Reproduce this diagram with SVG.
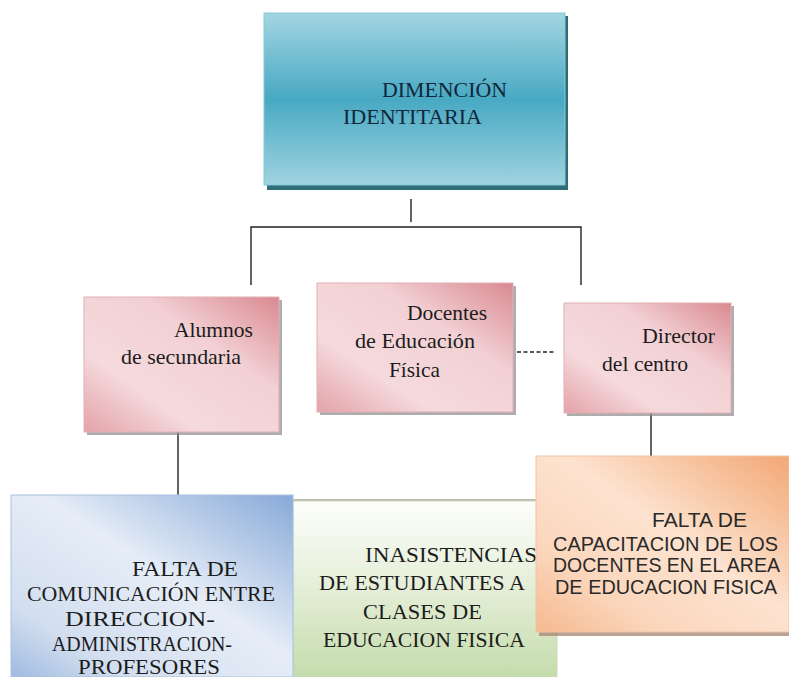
<svg xmlns="http://www.w3.org/2000/svg" width="789" height="677" viewBox="0 0 789 677">
<defs>
<linearGradient id="gTeal" x1="0" y1="0" x2="0" y2="1">
<stop offset="0" stop-color="#a3d5e2"/>
<stop offset="0.5" stop-color="#48a9c3"/>
<stop offset="1" stop-color="#a0d3e0"/>
</linearGradient>
<linearGradient id="gPink" x1="1" y1="0" x2="0" y2="1">
<stop offset="0" stop-color="#d98990"/>
<stop offset="0.35" stop-color="#f2d0d4"/>
<stop offset="0.7" stop-color="#f5dadd"/>
<stop offset="1" stop-color="#e3a2a8"/>
</linearGradient>
<linearGradient id="gBlue" x1="1" y1="0" x2="0" y2="1">
<stop offset="0" stop-color="#87a9d8"/>
<stop offset="0.45" stop-color="#e6edf7"/>
<stop offset="0.8" stop-color="#d2deef"/>
<stop offset="1" stop-color="#9fbbe0"/>
</linearGradient>
<linearGradient id="gGreen" x1="0" y1="0" x2="0" y2="1">
<stop offset="0" stop-color="#fdfefb"/>
<stop offset="0.5" stop-color="#e4eed7"/>
<stop offset="1" stop-color="#c5dcab"/>
</linearGradient>
<linearGradient id="gOrange" x1="1" y1="0" x2="0" y2="1">
<stop offset="0" stop-color="#f2a874"/>
<stop offset="0.45" stop-color="#fde3d0"/>
<stop offset="0.75" stop-color="#fbd6bc"/>
<stop offset="1" stop-color="#f5b98f"/>
</linearGradient>
</defs>
<style>
text.tr{font-family:"Liberation Serif","Times New Roman",serif;font-size:21px;fill:#1c1c1c}
text.sm{font-size:20px}
text.ar{font-family:"Liberation Sans",Arial,sans-serif;font-size:19.5px;fill:#2a2a2a}
.conn{stroke:#222;stroke-width:1.4;fill:none}
.pshadow{fill:#8a8a8a;opacity:0.7}
.pink{fill:url(#gPink);stroke:#e2b0b4;stroke-width:1}
</style>
<rect width="789" height="677" fill="#ffffff"/>

<g id="connectors">
<line class="conn" x1="411" y1="199" x2="411" y2="222"/>
<polyline class="conn" points="251,285 251,227 581,227 581,285"/>
<line class="conn" x1="178" y1="430" x2="178" y2="495"/>
<line class="conn" x1="651" y1="405" x2="651" y2="456"/>
<line class="conn" x1="517" y1="352" x2="556" y2="352" stroke-dasharray="4,2.5" stroke-width="2"/>
</g>

<g id="top">
<rect x="267" y="16" width="301" height="174" fill="#2e6c76"/>
<rect x="264" y="13" width="301" height="172" fill="url(#gTeal)" stroke="#86c8d8" stroke-width="1"/>
<text class="tr" x="382" y="97" textLength="125" lengthAdjust="spacingAndGlyphs" style="fill:#10263a">DIMENCIÓN</text>
<text class="tr" x="343" y="124" textLength="139" lengthAdjust="spacingAndGlyphs" style="fill:#10263a">IDENTITARIA</text>
</g>

<g id="alumnos">
<rect class="pshadow" x="87" y="300" width="195" height="135"/>
<rect class="pink" x="84" y="297" width="195" height="135"/>
<text class="tr" x="174" y="337" textLength="79" lengthAdjust="spacingAndGlyphs">Alumnos</text>
<text class="tr" x="121" y="364" textLength="120" lengthAdjust="spacingAndGlyphs">de secundaria</text>
</g>

<g id="docentes">
<rect class="pshadow" x="320" y="286" width="196" height="129"/>
<rect class="pink" x="317" y="283" width="196" height="129"/>
<text class="tr" x="407" y="320" textLength="80" lengthAdjust="spacingAndGlyphs">Docentes</text>
<text class="tr" x="355" y="348" textLength="120" lengthAdjust="spacingAndGlyphs">de Educación</text>
<text class="tr" x="389" y="377" textLength="51" lengthAdjust="spacingAndGlyphs">Física</text>
</g>

<g id="director">
<rect class="pshadow" x="567" y="306" width="167" height="110"/>
<rect class="pink" x="564" y="303" width="167" height="110"/>
<text class="tr" x="642" y="343" textLength="73" lengthAdjust="spacingAndGlyphs">Director</text>
<text class="tr" x="602" y="371" textLength="86" lengthAdjust="spacingAndGlyphs">del centro</text>
</g>

<g id="inasistencias">
<rect x="293" y="499" width="264" height="178" fill="#b9b9b0"/>
<rect x="293" y="501" width="264" height="176" fill="url(#gGreen)" stroke="#c9dab5" stroke-width="1"/>
<text class="tr" x="365" y="562" textLength="172" lengthAdjust="spacingAndGlyphs">INASISTENCIAS</text>
<text class="tr" x="319" y="590" textLength="206" lengthAdjust="spacingAndGlyphs">DE ESTUDIANTES A</text>
<text class="tr" x="363" y="619" textLength="119" lengthAdjust="spacingAndGlyphs">CLASES DE</text>
<text class="tr" x="323" y="647" textLength="202" lengthAdjust="spacingAndGlyphs">EDUCACION FISICA</text>
</g>

<g id="comunicacion">
<rect x="11" y="495" width="282" height="182" fill="url(#gBlue)" stroke="#a9c1e2" stroke-width="1"/>
<text class="tr sm" x="132" y="576" textLength="106" lengthAdjust="spacingAndGlyphs">FALTA DE</text>
<text class="tr sm" x="27" y="601" textLength="248" lengthAdjust="spacingAndGlyphs">COMUNICACIÓN ENTRE</text>
<text class="tr sm" x="65" y="626" textLength="150" lengthAdjust="spacingAndGlyphs">DIRECCION-</text>
<text class="tr sm" x="52" y="651" textLength="180" lengthAdjust="spacingAndGlyphs">ADMINISTRACION-</text>
<text class="tr sm" x="78" y="674" textLength="142" lengthAdjust="spacingAndGlyphs">PROFESORES</text>
</g>

<g id="capacitacion">
<rect x="539" y="459" width="250" height="177" fill="#a98a78" opacity="0.8"/>
<rect x="536" y="456" width="253" height="176" fill="url(#gOrange)" stroke="#f0c4a4" stroke-width="1"/>
<text class="ar" x="652" y="527" textLength="95" lengthAdjust="spacingAndGlyphs">FALTA DE</text>
<text class="ar" x="553" y="551" textLength="225" lengthAdjust="spacingAndGlyphs">CAPACITACION DE LOS</text>
<text class="ar" x="553" y="572" textLength="227" lengthAdjust="spacingAndGlyphs">DOCENTES EN EL AREA</text>
<text class="ar" x="555" y="594" textLength="222" lengthAdjust="spacingAndGlyphs">DE EDUCACION FISICA</text>
</g>
</svg>
